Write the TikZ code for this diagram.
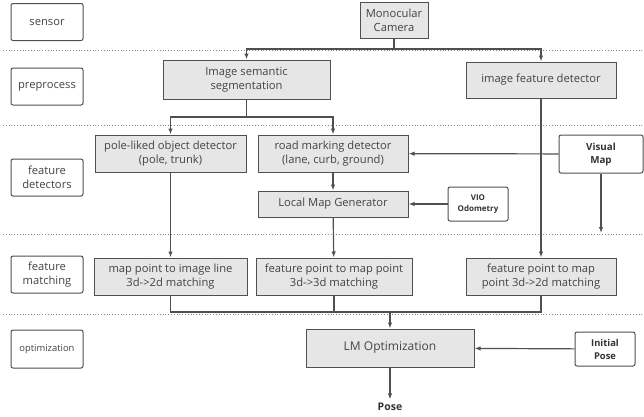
\documentclass[tikz,border=0pt]{standalone}
\usepackage{fontspec}
\setmainfont{Open Sans}
\usetikzlibrary{positioning, arrows.meta}
\definecolor{linegray}{HTML}{505050}
\definecolor{boxgray}{HTML}{E6E6E6}
\definecolor{textgray}{HTML}{444444}

\begin{document}
\begin{tikzpicture}[> = {Latex[length=6pt, width=4.5pt]}, x=1pt, y=-1pt, line width=1pt, draw=linegray]
    \tikzset{
      lane/.style={
        draw=linegray, rectangle, rounded corners=2pt, fill=white, text=textgray,
        minimum width=72pt, minimum height=37pt, align=center, font=\fontsize{11.2}{14}\selectfont,
      },
      block/.style={
        draw=linegray, rectangle, fill=boxgray, text=textgray,
        minimum height=37pt, align=center, inner sep=1pt, font=\fontsize{11.2}{14}\selectfont,
      },
      source/.style={
        draw=linegray, rectangle, rounded corners=2pt, fill=white, text=black!80,
        align=center, inner sep=1pt, font=\bfseries\fontsize{9.8}{13}\selectfont,
      },
      sep/.style={draw=black!45, dotted, line width=0.8pt},
      link/.style={draw=linegray, line width=1.2pt},
    }
    \useasboundingbox (0,0) rectangle (644,416);
    % stage separators
    \foreach \y in {50, 125, 234, 314} {
      \draw[sep] (3,\y) -- (644,\y);
    }
    % stage labels
    \foreach \name/\y/\txt in {sensor/22/sensor, pre/86.5/preprocess, det/177.5/feature\\detectors, match/274.5/feature\\matching} {
      \node (lane\name) [lane] at (47,\y) {\txt};
    }
    \node (laneopt) [lane, minimum height=38pt, font=\fontsize{9.4}{11}\selectfont] at (47,349) {optimization};
    % blocks
    \node (camera) [block, minimum width=68pt, minimum height=36pt] at (394,20) {Monocular\\Camera};
    \node (segment) [block, minimum width=167pt, minimum height=39pt] at (246.5,79.5) {Image semantic\\segmentation};
    \node (featdet) [block, minimum width=150pt, minimum height=36pt] at (541,80) {image feature detector};
    \node (poledet) [block, minimum width=151pt] at (170.5,153.5) {pole-liked object detector\\(pole, trunk)};
    \node (roaddet) [block, minimum width=150pt] at (333,153.5) {road marking detector\\(lane, curb, ground)};
    \node (localmap) [block, minimum width=150pt, minimum height=26pt] at (333,204) {Local Map Generator};
    \node (vio) [source, minimum width=60pt, minimum height=34pt, font=\bfseries\fontsize{8}{11}\selectfont] at (478,204) {VIO\\Odometry};
    \node (visualmap) [source, minimum width=84pt, minimum height=38pt] at (601,154) {Visual\\Map};
    \node (match1) [block, minimum width=153pt] at (170.5,276.5) {map point to image line\\3d->2d matching};
    \node (match2) [block, minimum width=156pt] at (334,276.5) {feature point to map point\\3d->3d matching};
    \node (match3) [block, minimum width=150pt] at (541,276.5) {feature point to map\\point 3d->2d matching};
    \node (lmopt) [block, minimum width=168pt, minimum height=38pt, font=\fontsize{12}{14}\selectfont] at (390,348) {LM Optimization};
    \node (initpose) [source, minimum width=60pt, minimum height=34pt, font=\bfseries\fontsize{9.4}{13}\selectfont] at (605,349) {Initial\\Pose};
    \node (pose) [text=black!80, font=\bfseries\fontsize{10.5}{12}\selectfont] at (390,407) {Pose};
    % split points
    \coordinate (camsplit) at (394,49);
    \coordinate (segsplit) at (246.5,117);
    \coordinate (merge) at (390,312);
    \coordinate (mapend) at (601,233);
    % arrows
    \draw[link] (camera) -- (camsplit);
    \draw[link, ->] (camsplit) -| (segment);
    \draw[link, ->] (camsplit) -| (featdet);
    \draw[link] (segment) -- (segsplit);
    \draw[link, ->] (segsplit) -| (poledet);
    \draw[link, ->] (segsplit) -| (roaddet);
    \draw[link, ->] (poledet) -- (match1);
    \draw[link, ->] (roaddet) -- (localmap);
    \draw[link, ->] (localmap) -- (match2);
    \draw[link, ->] (vio) -- (localmap);
    \draw[link, ->] (visualmap) -- (roaddet);
    \draw[link, ->] (visualmap) -- (mapend);
    \draw[link, ->] (featdet) -- (match3);
    \draw[link] (match1) |- (merge) -| (match3);
    \draw[link] (match2) -- (match2 |- merge);
    \draw[link, ->] (merge) -- (lmopt);
    \draw[link, ->] (initpose) -- (lmopt);
    \draw[link, ->] (lmopt) -- (pose);

  \end{tikzpicture}
\end{document}
